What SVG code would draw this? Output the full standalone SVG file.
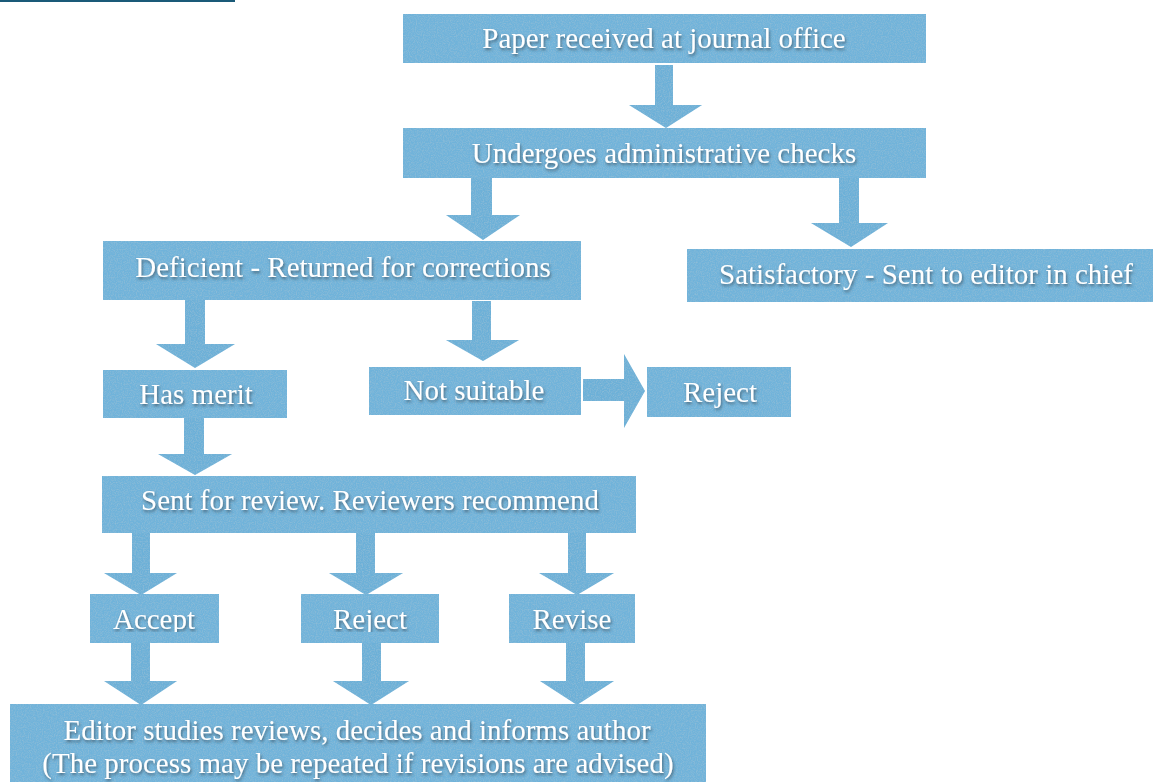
<svg xmlns="http://www.w3.org/2000/svg" width="1153" height="782" viewBox="0 0 1153 782">
<defs>
<filter id="tex" x="0" y="0" width="1" height="1">
<feTurbulence type="fractalNoise" baseFrequency="0.85" numOctaves="2" seed="4" result="n"/>
<feColorMatrix in="n" type="matrix" values="0 0 0 0 0.30  0 0 0 0 0.52  0 0 0 0 0.68  0 0 0 1.6 -0.62" result="spots"/>
<feComposite in="spots" in2="SourceGraphic" operator="in" result="s2"/>
<feMerge><feMergeNode in="SourceGraphic"/><feMergeNode in="s2"/></feMerge>
</filter>
<filter id="sh" x="-10%" y="-30%" width="120%" height="160%">
<feDropShadow dx="1" dy="2" stdDeviation="1.4" flood-color="#2a3a45" flood-opacity="0.65"/>
</filter>
<clipPath id="cutA"><rect x="0" y="560" width="800" height="72"/></clipPath>
</defs>
<style>
.box{fill:#70b3da;filter:url(#tex)}
.arr{fill:#6cb0d8;filter:url(#tex)}
.t{font-family:"Liberation Serif","Times New Roman",serif;font-size:29px;fill:#ffffff;text-anchor:middle;filter:url(#sh)}
</style>
<line x1="0" y1="1" x2="235" y2="1" stroke="#1a5a78" stroke-width="2"/>
<g id="connectors">
<polygon class="arr" points="655,65 673,65 673,105 702,105 666,128 629,105 655,105"/>
<polygon class="arr" points="471,178 492,178 492,215 520,215 483,240 446,215 471,215"/>
<polygon class="arr" points="839,178 859,178 859,223 888,223 851,247 811,223 839,223"/>
<polygon class="arr" points="185,300 205,300 205,344 235,344 195,368 156,344 185,344"/>
<polygon class="arr" points="472,301 491,301 491,340 519,340 483,361 446,340 472,340"/>
<polygon class="arr" points="583,379 624,379 624,354 645,391 624,428 624,401 583,401"/>
<polygon class="arr" points="184,418 204,418 204,454 232,454 195,475 158,454 184,454"/>
<polygon class="arr" points="132,533 150,533 150,573 177,573 141,595 104,573 132,573"/>
<polygon class="arr" points="356,533 375,533 375,573 403,573 366,595 329,573 356,573"/>
<polygon class="arr" points="568,533 586,533 586,573 614,573 577,595 539,573 568,573"/>
<polygon class="arr" points="131,643 150,643 150,681 177,681 141,705 104,681 131,681"/>
<polygon class="arr" points="362,643 381,643 381,681 409,681 371,705 333,681 362,681"/>
<polygon class="arr" points="566,643 585,643 585,681 614,681 577,705 540,681 566,681"/>
</g>
<g id="n-received"><rect class="box" x="403" y="14" width="523" height="49"/><text class="t" x="664" y="48">Paper received at journal office</text></g>
<g id="n-admin"><rect class="box" x="403" y="128" width="523" height="50"/><text class="t" x="664" y="163">Undergoes administrative checks</text></g>
<g id="n-deficient"><rect class="box" x="103" y="241" width="478" height="59"/><text class="t" x="343" y="277">Deficient - Returned for corrections</text></g>
<g id="n-satisfactory"><rect class="box" x="687" y="249" width="466" height="53"/><text class="t" x="926" y="284">Satisfactory - Sent to editor in chief</text></g>
<g id="n-merit"><rect class="box" x="103" y="370" width="184" height="48"/><text class="t" x="196" y="404">Has merit</text></g>
<g id="n-notsuitable"><rect class="box" x="369" y="367" width="212" height="48"/><text class="t" x="474" y="400">Not suitable</text></g>
<g id="n-reject1"><rect class="box" x="647" y="367" width="144" height="50"/><text class="t" x="720" y="402">Reject</text></g>
<g id="n-review"><rect class="box" x="102" y="476" width="534" height="57"/><text class="t" x="370" y="510">Sent for review. Reviewers recommend</text></g>
<g id="n-accept"><rect class="box" x="90" y="594" width="129" height="49"/><text class="t" x="154" y="629" clip-path="url(#cutA)">Accept</text></g>
<g id="n-reject2"><rect class="box" x="301" y="594" width="138" height="49"/><text class="t" x="370" y="629" clip-path="url(#cutA)">Reject</text></g>
<g id="n-revise"><rect class="box" x="509" y="594" width="126" height="49"/><text class="t" x="572" y="629">Revise</text></g>
<g id="n-editor"><rect class="box" x="10" y="704" width="696" height="78"/><text class="t" x="357" y="740">Editor studies reviews, decides and informs author</text><text class="t" x="358" y="773">(The process may be repeated if revisions are advised)</text></g>
</svg>
